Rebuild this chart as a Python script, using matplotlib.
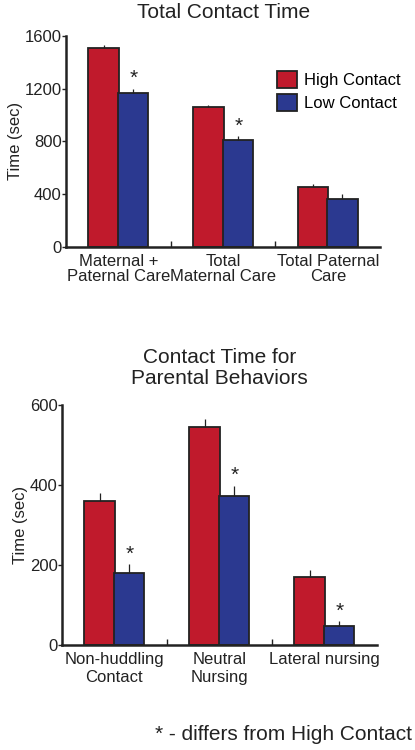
import numpy as np
import matplotlib
matplotlib.use("Agg")
import matplotlib.pyplot as plt
from matplotlib.patches import Patch

plt.rcParams['font.family'] = ['Liberation Sans', 'DejaVu Sans']

red = '#C01A2C'
blue = '#2B3990'
ink = '#222222'

# top panel data
top_cats = ['Maternal +\nPaternal Care', 'Total\nMaternal Care', 'Total Paternal\nCare']
top_high = [1512, 1060, 452]
top_high_err = [22, 13, 28]
top_low = [1171, 810, 366]
top_low_err = [29, 30, 35]
top_low_sig = [True, True, False]

# bottom panel data
bot_cats = ['Non-huddling\nContact', 'Neutral\nNursing', 'Lateral nursing']
bot_high = [360, 544, 170]
bot_high_err = [21, 20, 17]
bot_low = [181, 372, 48]
bot_low_err = [22, 26, 12]
bot_low_sig = [True, True, True]

fig = plt.figure(figsize=(4.15, 7.5), dpi=100)

def panel(ax, cats, high, high_err, low, low_err, sig, ymax, ticks, star_off, lsp):
    x = np.arange(len(cats))
    w = 0.29
    ax.bar(x - w / 2 + 0.005, high, w, color=red, edgecolor=ink, linewidth=1.3)
    ax.bar(x + w / 2 - 0.005, low, w, color=blue, edgecolor=ink, linewidth=1.3)
    ax.errorbar(x - w / 2 + 0.005, high, yerr=[np.zeros(len(high)), high_err],
                fmt='none', ecolor=ink, elinewidth=0.9, capsize=0)
    ax.errorbar(x + w / 2 - 0.005, low, yerr=[np.zeros(len(low)), low_err],
                fmt='none', ecolor=ink, elinewidth=0.9, capsize=0)
    for i in range(len(cats)):
        if sig[i]:
            ax.text(x[i] + w / 2, low[i] + low_err[i] + star_off, '*',
                    ha='center', va='center', fontsize=15, color=ink)
    ax.set_xlim(-0.5, len(cats) - 0.5)
    ax.set_ylim(0, ymax)
    ax.set_yticks(ticks)
    ax.tick_params(axis='y', direction='out', length=3, width=1, labelsize=12, pad=0,
                   colors=ink)
    ax.set_xticks([0.5, 1.5])
    ax.set_xticks(x, minor=True)
    ax.set_xticklabels(cats, minor=True, fontsize=12, color=ink, linespacing=lsp)
    ax.set_xticklabels([], minor=False)
    ax.tick_params(axis='x', which='major', direction='in', length=4, width=1, colors=ink)
    ax.tick_params(axis='x', which='minor', length=0, pad=5)
    for s in ['top', 'right']:
        ax.spines[s].set_visible(False)
    for s in ['left', 'bottom']:
        ax.spines[s].set_linewidth(1.8)
        ax.spines[s].set_color(ink)
    ax.set_ylabel('Time (sec)', fontsize=12, color=ink, labelpad=1)

ax1 = fig.add_axes([0.159, 0.671, 0.757, 0.281])
panel(ax1, top_cats, top_high, top_high_err, top_low, top_low_err, top_low_sig,
      1600, [0, 400, 800, 1200, 1600], 75, 1.05)
ax1.set_title('Total Contact Time', fontsize=15, color=ink, pad=13)
ax1.legend(handles=[Patch(facecolor=red, edgecolor=ink, linewidth=1.3),
                    Patch(facecolor=blue, edgecolor=ink, linewidth=1.3)],
           labels=['High Contact', 'Low Contact'], frameon=False, fontsize=12,
           loc='upper left', bbox_to_anchor=(0.65, 0.865), handlelength=1.2,
           handleheight=1.2, handletextpad=0.4, labelspacing=0.35, borderaxespad=0)

ax2 = fig.add_axes([0.149, 0.1396, 0.759, 0.3208])
panel(ax2, bot_cats, bot_high, bot_high_err, bot_low, bot_low_err, bot_low_sig,
      600, [0, 200, 400, 600], 25, 1.2)
ax2.set_title('Contact Time for\nParental Behaviors', fontsize=15, color=ink, pad=15,
              linespacing=1.15)

fig.text(0.993, 0.02, '* - differs from High Contact', ha='right', va='center',
         fontsize=15, color=ink)

fig.savefig('out.png', dpi=100)
